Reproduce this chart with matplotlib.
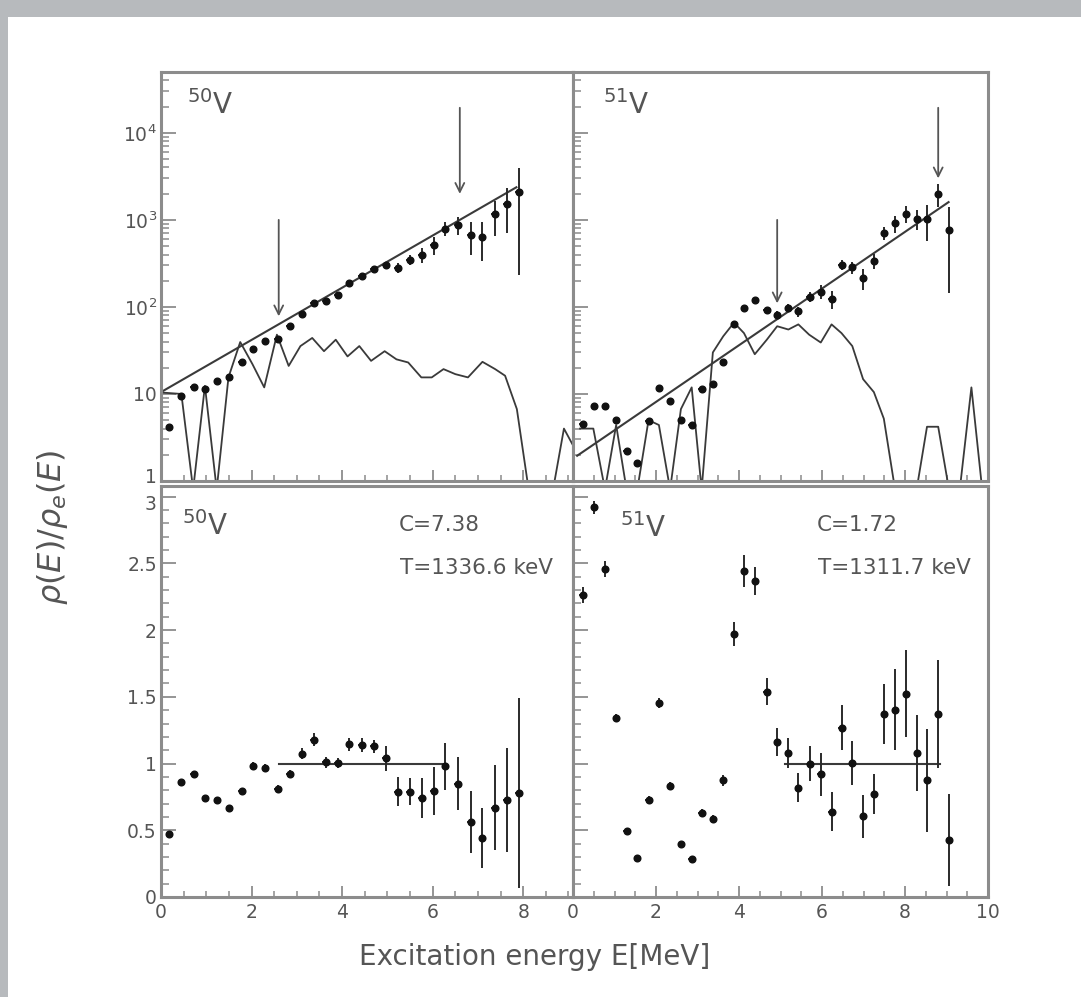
import matplotlib
matplotlib.use("Agg")
import matplotlib.pyplot as plt
import matplotlib.transforms as mtransforms
from matplotlib.patches import Rectangle
from matplotlib.ticker import FixedLocator, MultipleLocator, LogLocator, NullFormatter

plt.rcParams['font.family'] = ['DejaVu Sans']
plt.rcParams['mathtext.fontset'] = 'dejavusans'

# ---------------- data ----------------
E50 = [0.18, 0.45, 0.72, 0.98, 1.24, 1.51, 1.78, 2.04, 2.30, 2.58, 2.85, 3.12, 3.38, 3.64, 3.90,
       4.16, 4.44, 4.70, 4.97, 5.23, 5.49, 5.76, 6.02, 6.28, 6.55, 6.84, 7.10, 7.37, 7.64, 7.90]
rho50 = [4.2, 9.6, 11.9, 11.4, 14.2, 15.7, 23, 33, 40.5, 42.4, 60, 84, 111, 117, 138,
         188, 227, 271, 304, 282, 346, 395, 515, 794, 868, 668, 636, 1155, 1535, 2080]
rho50_err = [0.2, 0.3, 0.3, 0.3, 0.4, 0.5, 0.6, 1, 1.2, 1.6, 2, 3.4, 4.7, 4.7, 5.5,
             8, 10, 12, 27, 38, 44, 79, 118, 143, 204, 270, 300, 500, 820, 1850]
ratio50 = [0.475, 0.86, 0.92, 0.74, 0.73, 0.67, 0.795, 0.98, 0.97, 0.81, 0.92, 1.075, 1.18, 1.01, 1.005,
           1.145, 1.14, 1.13, 1.04, 0.79, 0.79, 0.743, 0.795, 0.98, 0.85, 0.5625, 0.445, 0.67, 0.73, 0.78]
ratio50_err = [0.02, 0.02, 0.02, 0.02, 0.02, 0.02, 0.02, 0.03, 0.03, 0.03, 0.03, 0.04, 0.05, 0.04, 0.04,
               0.05, 0.05, 0.05, 0.095, 0.106, 0.10, 0.15, 0.18, 0.175, 0.2, 0.23, 0.225, 0.32, 0.39, 0.71]

E51 = [0.23, 0.51, 0.78, 1.04, 1.29, 1.55, 1.82, 2.07, 2.34, 2.60, 2.86, 3.10, 3.37, 3.62, 3.88,
       4.13, 4.39, 4.67, 4.92, 5.19, 5.43, 5.70, 5.97, 6.23, 6.47, 6.73, 6.99, 7.25, 7.50, 7.76,
       8.03, 8.29, 8.54, 8.80, 9.06]
rho51 = [4.5, 7.2, 7.2, 5.0, 2.2, 1.63, 4.9, 11.7, 8.4, 5.0, 4.4, 11.4, 13, 23.4, 63,
         97, 119, 91.6, 81.6, 97, 89, 130, 150, 123, 304, 285, 215, 340, 710, 910,
         1180, 1035, 1035, 1995, 775]
rho51_err = [0.15, 0.25, 0.25, 0.2, 0.1, 0.08, 0.2, 0.5, 0.4, 0.3, 0.3, 0.6, 0.7, 1.2, 2.8,
             4.7, 5.4, 6, 7.4, 10, 11.5, 17, 26.5, 28, 40, 46, 58, 66, 117, 194,
             251, 275, 458, 590, 630]
ratio51 = [2.26, 2.92, 2.46, 1.34, 0.495, 0.295, 0.725, 1.455, 0.83, 0.395, 0.288, 0.63, 0.583, 0.875, 1.97,
           2.445, 2.37, 1.54, 1.163, 1.08, 0.82, 1.0, 0.92, 0.64, 1.27, 1.005, 0.605, 0.77, 1.37, 1.405,
           1.525, 1.08, 0.875, 1.37, 0.43]
ratio51_err = [0.06, 0.05, 0.06, 0.03, 0.02, 0.02, 0.03, 0.04, 0.03, 0.02, 0.02, 0.03, 0.03, 0.04, 0.0875,
               0.119, 0.106, 0.1, 0.106, 0.1125, 0.106, 0.13, 0.1625, 0.144, 0.169, 0.1625, 0.1625, 0.15, 0.225, 0.3,
               0.325, 0.2875, 0.3875, 0.406, 0.344]

# level-counting curves (thin lines)
curve50_E = [0.0, 0.45, 0.71, 0.97, 1.23, 1.49, 1.75, 2.02, 2.28, 2.56, 2.82, 3.08, 3.34, 3.60, 3.86,
             4.12, 4.38, 4.64, 4.94, 5.20, 5.46, 5.75, 5.98, 6.24, 6.50, 6.78, 7.10, 7.38, 7.60, 7.86,
             8.12, 8.40, 8.66, 8.90, 9.15]
curve50_rho = [10.4, 10.0, 0.8, 12.4, 0.8, 15.5, 39.5, 22, 11.9, 48, 21, 35.5, 44, 31, 42,
               27, 35.5, 24, 31, 25, 23, 15.5, 15.5, 19.3, 16.9, 15.5, 23.4, 19.3, 16.2, 6.7,
               0.8, 0.8, 0.8, 4.0, 2.3]
curve51_E = [0.17, 0.49, 0.77, 1.04, 1.29, 1.55, 1.82, 2.07, 2.34, 2.60, 2.86, 3.10, 3.37, 3.62, 3.88,
             4.12, 4.38, 4.67, 4.92, 5.19, 5.43, 5.69, 5.97, 6.23, 6.47, 6.73, 6.99, 7.25, 7.49, 7.76,
             8.03, 8.28, 8.53, 8.80, 9.06, 9.32, 9.60, 9.86]
curve51_rho = [4.0, 4.0, 0.8, 4.4, 0.8, 0.8, 5.0, 4.4, 0.8, 6.7, 11.9, 0.8, 30, 46, 66,
               50, 28.6, 42, 60, 55, 63, 48, 39, 63, 50, 35.5, 14.8, 10.5, 5.2, 0.8,
               0.8, 0.8, 4.2, 4.2, 0.8, 0.8, 11.9, 0.8]

# constant-temperature fits
fit50_E = [0.0, 7.85]
fit50_rho = [10.5, 2370]
fit51_E = [0.1, 9.05]
fit51_rho = [1.95, 1600]

# arrows (fit region limits)
arrow50_E = [2.6, 6.6]
arrow50_top = [1000, 19400]
arrow50_tip = [78, 1990]
arrow51_E = [4.92, 8.8]
arrow51_top = [1000, 19400]
arrow51_tip = [110, 3000]

# flat reference lines in ratio panels
flat50_E = [2.6, 6.3]
flat51_E = [5.12, 8.84]
flat_level = [1.0, 1.0]

labels_top = ['1', '10', '$10^2$', '$10^3$', '$10^4$']
ticks_top = [1, 10, 100, 1000, 10000]
ticks_bot = [0, 0.5, 1, 1.5, 2, 2.5, 3]
ticks_bot_lbl = ['0', '0.5', '1', '1.5', '2', '2.5', '3']
xt_left = [0, 2, 4, 6, 8]
xt_right = [0, 2, 4, 6, 8, 10]

# ---------------- figure ----------------
W, H = 1081, 997
fig = plt.figure(figsize=(W / 100, H / 100), dpi=100)
fig.patch.set_facecolor('#b7babd')
bg = Rectangle((8 / W, 0), 1 - 8 / W, 1 - 17 / H, transform=fig.transFigure,
               facecolor='white', edgecolor='none', zorder=-10)
fig.patches.append(bg)

def box(x0, y0, x1, y1):
    return [x0 / W, 1 - y1 / H, (x1 - x0) / W, (y1 - y0) / H]

ax_tl = fig.add_axes(box(161, 72, 573, 481))
ax_tr = fig.add_axes(box(573, 72, 988, 481))
ax_bl = fig.add_axes(box(161, 486, 573, 897))
ax_br = fig.add_axes(box(573, 486, 988, 897))

TXT = '#555555'
SPINE = '#8c8c8c'
LINE = '#3a3a3a'

for ax in (ax_tl, ax_tr, ax_bl, ax_br):
    ax.set_facecolor('white')
    for s in ax.spines.values():
        s.set_color(SPINE)
        s.set_linewidth(2.2)
    ax.tick_params(which='both', direction='in', colors=SPINE, labelcolor=TXT,
                   top=False, right=False, labelsize=13.5)
    ax.tick_params(axis='x', which='major', length=8, width=1.3, pad=4)
    ax.tick_params(axis='x', which='minor', length=4.5, width=1.1)
    ax.tick_params(axis='y', which='major', length=11, width=1.3, pad=3)
    ax.tick_params(axis='y', which='minor', length=5.5, width=1.1)

ax_tl.set_xlim(0, 9.1)
ax_bl.set_xlim(0, 9.1)
ax_tr.set_xlim(0, 10)
ax_br.set_xlim(0, 10)

for ax in (ax_tl, ax_tr):
    ax.set_yscale('log')
    ax.set_ylim(1, 5e4)
    ax.yaxis.set_major_locator(FixedLocator(ticks_top))
    ax.yaxis.set_minor_locator(LogLocator(base=10, subs=[2, 3, 4, 5, 6, 7, 8, 9]))
    ax.yaxis.set_minor_formatter(NullFormatter())
    ax.tick_params(labelbottom=False)

for ax in (ax_bl, ax_br):
    ax.set_ylim(0, 3.08)
    ax.yaxis.set_major_locator(FixedLocator(ticks_bot))
    ax.yaxis.set_minor_locator(MultipleLocator(0.1))

for ax in (ax_tl, ax_bl):
    ax.xaxis.set_major_locator(FixedLocator(xt_left))
    ax.xaxis.set_minor_locator(MultipleLocator(0.5))
for ax in (ax_tr, ax_br):
    ax.xaxis.set_major_locator(FixedLocator(xt_right))
    ax.xaxis.set_minor_locator(MultipleLocator(0.5))
    ax.tick_params(labelleft=False)

ax_tl.set_yticklabels(labels_top)
ax_bl.set_yticklabels(ticks_bot_lbl)
ax_bl.set_xticks(xt_left)
ax_bl.set_xticklabels([str(v) for v in xt_left])
ax_br.set_xticks(xt_right)
ax_br.set_xticklabels([str(v) for v in xt_right])

# nudge the touching "1" (top) and "3" (bottom) labels apart a little
lbl_one = ax_tl.get_yticklabels()[0]
lbl_one.set_transform(lbl_one.get_transform() + mtransforms.ScaledTranslation(0, 4 / 72, fig.dpi_scale_trans))
lbl_three = ax_bl.get_yticklabels()[-1]
lbl_three.set_transform(lbl_three.get_transform() + mtransforms.ScaledTranslation(0, -4 / 72, fig.dpi_scale_trans))

eb_kw = dict(fmt='o', ms=4.8, color='#111111', ecolor='#2a2a2a', elinewidth=1.4,
             capsize=0, xerr=0.08, zorder=3)

# top-left 50V
ax_tl.plot(curve50_E, curve50_rho, color=LINE, lw=1.3, zorder=2)
ax_tl.plot(fit50_E, fit50_rho, color=LINE, lw=1.5, zorder=2)
ax_tl.errorbar(E50, rho50, yerr=rho50_err, **eb_kw)
for xa, ya, yb in zip(arrow50_E, arrow50_top, arrow50_tip):
    ax_tl.annotate('', xy=(xa, yb), xytext=(xa, ya),
                   arrowprops=dict(arrowstyle='->', color='#555555', lw=1.3,
                                   mutation_scale=16, shrinkA=0, shrinkB=0))

# top-right 51V
ax_tr.plot(curve51_E, curve51_rho, color=LINE, lw=1.3, zorder=2)
ax_tr.plot(fit51_E, fit51_rho, color=LINE, lw=1.5, zorder=2)
ax_tr.errorbar(E51, rho51, yerr=rho51_err, **eb_kw)
for xa, ya, yb in zip(arrow51_E, arrow51_top, arrow51_tip):
    ax_tr.annotate('', xy=(xa, yb), xytext=(xa, ya),
                   arrowprops=dict(arrowstyle='->', color='#555555', lw=1.3,
                                   mutation_scale=16, shrinkA=0, shrinkB=0))

# bottom-left ratio 50V
ax_bl.plot(flat50_E, flat_level, color=LINE, lw=1.5, zorder=2)
ax_bl.errorbar(E50, ratio50, yerr=ratio50_err, **eb_kw)

# bottom-right ratio 51V
ax_br.plot(flat51_E, flat_level, color=LINE, lw=1.5, zorder=2)
ax_br.errorbar(E51, ratio51, yerr=ratio51_err, **eb_kw)

# nucleus labels
ax_tl.text(0.063, 0.955, r'$^{50}$V', transform=ax_tl.transAxes, va='top', ha='left',
           fontsize=20, color=TXT)
ax_tr.text(0.072, 0.955, r'$^{51}$V', transform=ax_tr.transAxes, va='top', ha='left',
           fontsize=20, color=TXT)
ax_bl.text(0.05, 0.94, r'$^{50}$V', transform=ax_bl.transAxes, va='top', ha='left',
           fontsize=20, color=TXT)
ax_br.text(0.113, 0.935, r'$^{51}$V', transform=ax_br.transAxes, va='top', ha='left',
           fontsize=20, color=TXT)

ax_bl.text(0.576, 0.905, 'C=7.38', transform=ax_bl.transAxes, va='center', ha='left',
           fontsize=15.5, color=TXT)
ax_bl.text(0.580, 0.80, 'T=1336.6 keV', transform=ax_bl.transAxes, va='center', ha='left',
           fontsize=15.5, color=TXT)
ax_br.text(0.588, 0.905, 'C=1.72', transform=ax_br.transAxes, va='center', ha='left',
           fontsize=15.5, color=TXT)
ax_br.text(0.590, 0.80, 'T=1311.7 keV', transform=ax_br.transAxes, va='center', ha='left',
           fontsize=15.5, color=TXT)

fig.text(535 / W, 1 - 957 / H, 'Excitation energy E[MeV]', ha='center', va='center',
         fontsize=20, color=TXT)
fig.text(53 / W, 1 - 527 / H, r'$\rho(E)/\rho_e(E)$', ha='center', va='center',
         rotation=90, fontsize=23, color=TXT)

fig.savefig('out.png', dpi=100, facecolor=fig.get_facecolor())
